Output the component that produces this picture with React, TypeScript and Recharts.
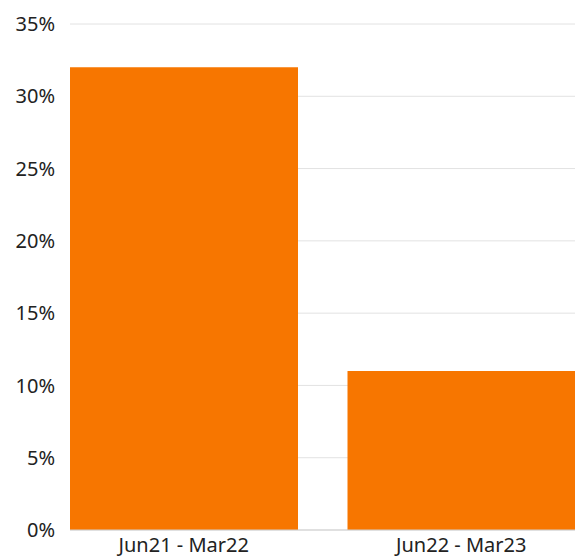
import { BarChart, Bar, XAxis, YAxis, CartesianGrid } from "recharts";

const periods = ["Jun21 - Mar22", "Jun22 - Mar23"];
const growth = [0.32, 0.11];
const yTicks = [0, 0.05, 0.1, 0.15, 0.2, 0.25, 0.3, 0.35];

const data = periods.map((p, i) => ({ period: p, growth: growth[i] }));

const font = "'Noto Sans', 'Open Sans', sans-serif";

export default function App() {
  return (
    <div style={{ position: "fixed", left: 0, top: 0, background: "#fff" }}>
      <BarChart
        width={575}
        height={559}
        data={data}
        margin={{ top: 24, right: 0, bottom: 0, left: 0 }}
        barCategoryGap={25}
      >
        <CartesianGrid vertical={false} stroke="#e2e2e2" />
        <XAxis
          dataKey="period"
          height={29}
          padding={{ left: -25, right: -25 }}
          tickLine={false}
          tickSize={0}
          tickMargin={8}
          axisLine={{ stroke: "#cfcfcf" }}
          tick={{ fill: "#222", fontSize: 20, fontFamily: font }}
        />
        <YAxis
          width={70}
          domain={[0, 0.35]}
          ticks={yTicks}
          interval={0}
          tickFormatter={(v: number) => `${Math.round(v * 100)}%`}
          axisLine={false}
          tickLine={false}
          tickSize={0}
          tickMargin={15}
          tick={{ fill: "#222", fontSize: 20, fontFamily: font }}
        />
        <Bar dataKey="growth" fill="#f77600" isAnimationActive={false} />
      </BarChart>
    </div>
  );
}
